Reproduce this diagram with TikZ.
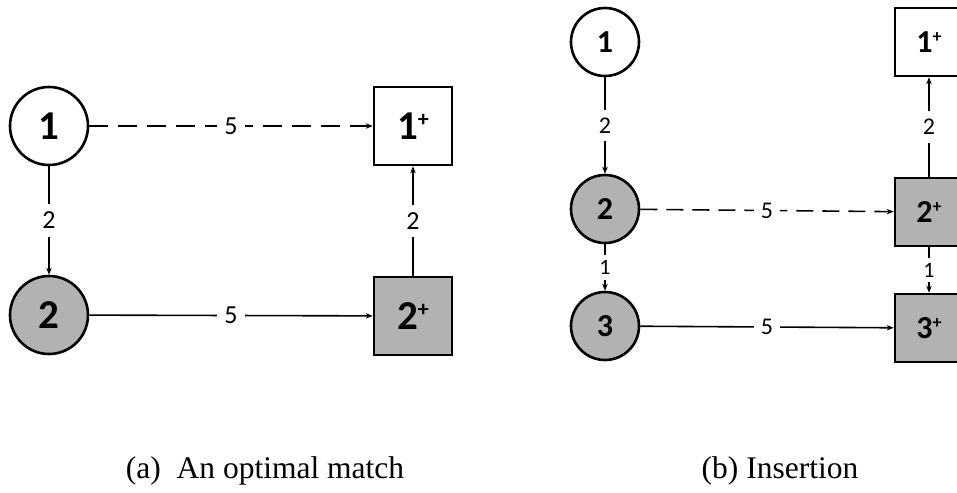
\documentclass[tikz,border=0pt]{standalone}
\usepackage{fontspec}
\setmainfont{Liberation Serif}
\newfontfamily\nodefont{Carlito}
\usetikzlibrary{arrows.meta}
\definecolor{nodegray}{RGB}{178,178,178}
\newcommand{\bigplus}{\raisebox{13pt}{\fontsize{22}{22}\selectfont\bfseries+}}
\newcommand{\midplus}{\raisebox{10pt}{\fontsize{18}{18}\selectfont\bfseries+}}
\begin{document}
\begin{tikzpicture}[x=1pt,y=-1pt,
  cnode/.style={circle,draw,line width=2.6pt,minimum size=#1,inner sep=0pt},
  snode/.style={rectangle,draw,line width=2.6pt,minimum size=#1,inner sep=0pt},
  shaded/.style={fill=nodegray},
  bigtxt/.style={font=\nodefont\fontsize{41}{43}\selectfont\bfseries},
  midtxt/.style={font=\nodefont\fontsize{32}{34}\selectfont\bfseries},
  conn/.style={line width=1.6pt,-{Stealth[length=7pt,width=5.5pt]}},
  dconn/.style={conn,dash pattern=on 19pt off 10pt},
  lab/.style={fill=white,inner xsep=7pt,inner ysep=8pt,font=\nodefont\fontsize{#1}{#1}\selectfont},
  lab/.default=26,
  captxt/.style={font=\fontsize{31.5}{33}\selectfont,anchor=base}
]
\useasboundingbox[fill=white] (0,0) rectangle (957,492);
% panel (a)
\node[cnode=78,bigtxt] (a1) at (49,126) {1};
\node[cnode=78,shaded,bigtxt] (a2) at (49,315) {2};
\node[snode=78,bigtxt] (a1p) at (413,126) {1\bigplus};
\node[snode=78,shaded,bigtxt] (a2p) at (413,316) {2\bigplus};
\draw[dconn] (a1) -- node[lab] {5} (a1p);
\draw[conn] (a1) -- node[lab] {2} (a2);
\draw[conn] (a2p) -- node[lab] {2} (a1p);
\draw[conn] (a2) -- node[lab] {5} (a2p);
% panel (b)
\node[cnode=68,midtxt] (b1) at (605,42) {1};
\node[cnode=68,shaded,midtxt] (b2) at (605,209) {2};
\node[cnode=68,shaded,midtxt] (b3) at (605,326) {3};
\node[snode=68,midtxt] (b1p) at (929,42) {1\midplus};
\node[snode=68,shaded,midtxt] (b2p) at (929,212) {2\midplus};
\node[snode=68,shaded,midtxt] (b3p) at (929,328) {3\midplus};
\draw[conn] (b1) -- node[lab=24] {2} (b2);
\draw[dconn,dash pattern=on 17pt off 9pt] (b2) -- node[lab=24] {5} (b2p);
\draw[conn] (b2p) -- node[lab=24] {2} (b1p);
\draw[conn] (b2) -- node[lab=22,inner ysep=5pt] {1} (b3);
\draw[conn] (b2p) -- node[lab=22,inner ysep=5pt] {1} (b3p);
\draw[conn] (b3) -- node[lab=24] {5} (b3p);
% captions
\node[captxt] (capa) at (265,478) {(a)\ \ An optimal match};
\node[captxt] (capb) at (780,478) {(b) Insertion};
\end{tikzpicture}
\end{document}
